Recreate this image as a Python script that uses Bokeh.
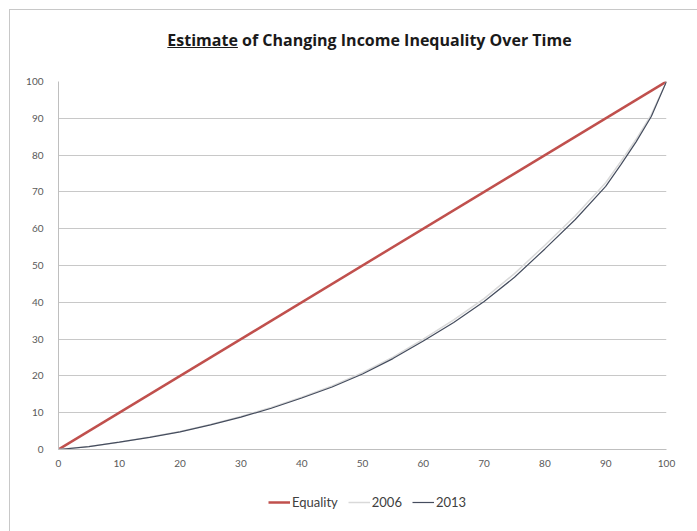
from bokeh.plotting import figure
from bokeh.layouts import column
from bokeh.models import Legend, LegendItem, FixedTicker, Range1d, Div
from bokeh.embed import file_html
from bokeh.resources import INLINE

# ---- data ----
pct_pop = [0, 5, 10, 15, 20, 25, 30, 35, 40, 45, 50, 55, 60, 65, 70, 75, 80, 85, 90, 92.5, 95, 97.5, 100]
income_2006 = [0, 0.8, 2.0, 3.4, 4.9, 6.8, 9.0, 11.4, 14.2, 17.3, 20.9, 25.1, 30.0, 35.2, 41.0, 47.8, 55.5, 63.5, 72.5, 78.3, 84.3, 91.0, 100]
income_2013 = [0, 0.8, 2.0, 3.3, 4.8, 6.7, 8.8, 11.2, 14.0, 17.0, 20.5, 24.7, 29.5, 34.5, 40.2, 46.8, 54.5, 62.5, 71.5, 77.4, 83.6, 90.5, 100]
equality_x = [0, 100]
equality_y = [0, 100]
ticks = list(range(0, 101, 10))
title_first = "Estimate"
title_rest = " of Changing Income Inequality Over Time"
series_names = ["Equality", "2006", "2013"]

FONT = "Lato"
TITLE_FONT = "Open Sans"
COL_EQ, COL_06, COL_13 = "#c0504d", "#d9d9d9", "#454d5e"
W_EQ, W_06, W_13 = 2.5, 1.5, 1.2
NAN = float("nan")

# ---- header: title with the first word underlined ----
header = Div(width=687, height=61, margin=0,
             text=(f'<div style="width:687px;box-sizing:border-box;padding-left:32px;padding-top:19px;'
                   f'text-align:center;font-family:\'{TITLE_FONT}\';font-weight:bold;font-size:16px;'
                   f'line-height:22px;color:#1a1a1a;white-space:nowrap;">'
                   f'<u>{title_first}</u>{title_rest}</div>'))

# ---- main chart ----
p = figure(width=687, height=403, output_backend="svg", toolbar_location=None,
           x_range=Range1d(0, 100), y_range=Range1d(0, 100),
           min_border_left=48, min_border_right=31, min_border_top=10, min_border_bottom=25)

p.line(equality_x, equality_y, line_color=COL_EQ, line_width=W_EQ)
p.line(pct_pop, income_2006, line_color=COL_06, line_width=W_06)
p.line(pct_pop, income_2013, line_color=COL_13, line_width=W_13)

p.xaxis.ticker = FixedTicker(ticks=ticks)
p.yaxis.ticker = FixedTicker(ticks=ticks)
for ax in (p.xaxis, p.yaxis):
    ax.major_tick_line_color = None
    ax.minor_tick_line_color = None
    ax.axis_line_color = "#bfbfbf"
    ax.major_label_text_font = FONT
    ax.major_label_text_font_size = "10px"
    ax.major_label_text_color = "#595959"
p.yaxis.major_label_standoff = 9
p.xaxis.major_label_standoff = 4

p.xgrid.grid_line_color = None
p.ygrid.grid_line_color = "#c8c8c8"
p.ygrid.grid_line_width = 1
p.outline_line_color = None

# ---- footer: legend (swatches only, no data drawn here) ----
foot = figure(width=687, height=57, output_backend="svg", toolbar_location=None, title=None,
              x_range=Range1d(0, 1), y_range=Range1d(0, 1), min_border=0)
foot.axis.visible = False
foot.grid.visible = False
foot.outline_line_color = None
f_eq = foot.line([NAN], [NAN], line_color=COL_EQ, line_width=W_EQ)
f_06 = foot.line([NAN], [NAN], line_color=COL_06, line_width=W_06)
f_13 = foot.line([NAN], [NAN], line_color=COL_13, line_width=W_13)
legend = Legend(items=[LegendItem(label=series_names[0], renderers=[f_eq]),
                       LegendItem(label=series_names[1], renderers=[f_06]),
                       LegendItem(label=series_names[2], renderers=[f_13])],
                orientation="horizontal", location=(210, 21),
                label_text_font=FONT, label_text_font_size="13px", label_text_color="#404040",
                glyph_width=22, glyph_height=10, label_standoff=2, spacing=10,
                padding=0, margin=0, border_line_color=None, background_fill_alpha=0)
foot.add_layout(legend)

layout = column(header, p, foot, spacing=0, margin=(9, 0, 0, 9),
                styles={"border-left": "1px solid #c8c8c8", "border-top": "1px solid #c8c8c8"})

open("out.html", "w").write(file_html(layout, INLINE))
